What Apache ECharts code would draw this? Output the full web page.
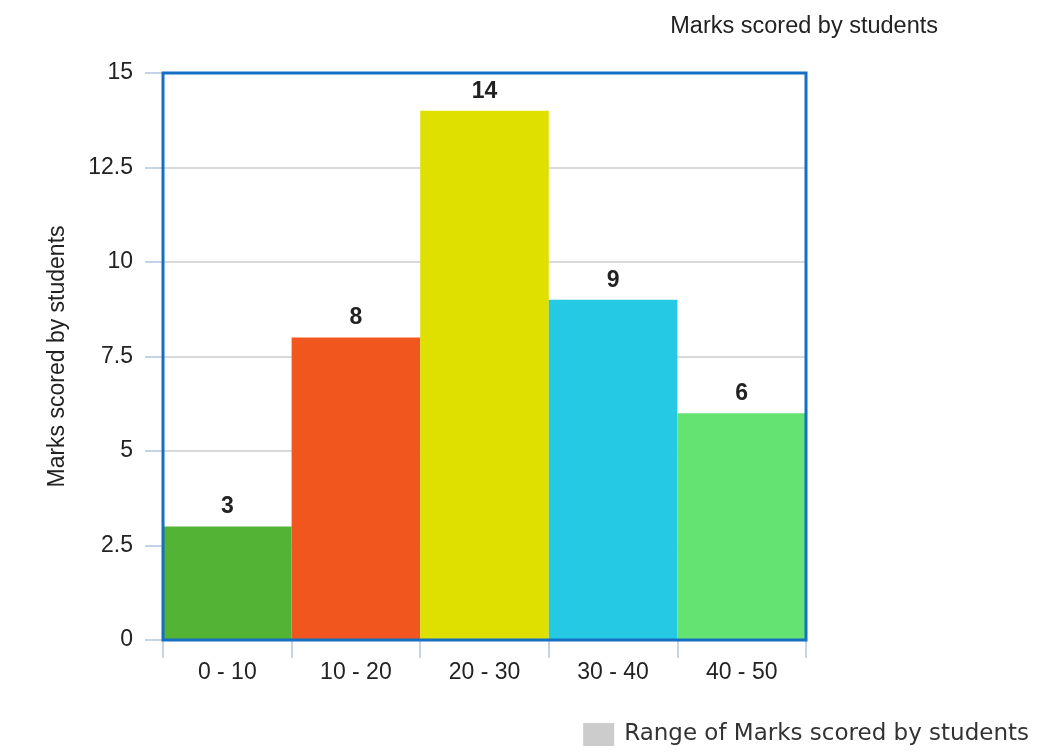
<!DOCTYPE html>
<html><head><meta charset="utf-8">
<script src="https://cdn.jsdelivr.net/npm/echarts@6/dist/echarts.min.js"></script>
<style>html,body{margin:0;padding:0;background:#fff}#c{width:1050px;height:754px}</style>
</head><body><div id="c"></div>
<script>
const categories = ['0 - 10', '10 - 20', '20 - 30', '30 - 40', '40 - 50'];
const values = [3, 8, 14, 9, 6];
const barColors = ['#52b334', '#f0561d', '#dfe000', '#26c9e3', '#64e372'];
const seriesName = 'Range of Marks scored by students';
const titleText = 'Marks scored by students';
const yAxisName = 'Marks scored by students';

const chart = echarts.init(document.getElementById('c'));
chart.setOption({
  animation: false,
  title: {
    text: titleText, right: 107, top: 10,
    textStyle: {fontFamily: 'Liberation Sans, Arial', fontSize: 23.5, fontWeight: 'normal', color: '#222'}
  },
  legend: {
    data: [seriesName], right: 16, bottom: 3, itemWidth: 31, itemHeight: 23, itemGap: 10, icon: 'rect',
    textStyle: {fontFamily: 'DejaVu Sans', fontSize: 23, color: '#333', padding: [0, 0, 0, 5]}
  },
  grid: {left: 163, top: 73, right: 244, bottom: 114, show: true, z: 3, borderColor: '#1570c4', borderWidth: 3, backgroundColor: 'transparent'},
  xAxis: {
    type: 'category', data: categories,
    axisLine: {show: false},
    axisTick: {show: true, length: 18, lineStyle: {color: '#c5d3e6', width: 2}},
    axisLabel: {fontFamily: 'Liberation Sans, Arial', fontSize: 23, color: '#222', margin: 21}
  },
  yAxis: {
    type: 'value', min: 0, max: 15, interval: 2.5,
    name: yAxisName, nameLocation: 'middle', nameGap: 94,
    nameTextStyle: {fontFamily: 'Liberation Sans, Arial', fontSize: 23, color: '#222'},
    axisLine: {show: false},
    axisTick: {show: true, length: 18, lineStyle: {color: '#c5d3e6', width: 2}},
    axisLabel: {fontFamily: 'Liberation Sans, Arial', fontSize: 23, color: '#222', margin: 30},
    splitLine: {lineStyle: {color: '#cccccc', width: 1.5}}
  },
  series: [{
    name: seriesName, type: 'bar', barCategoryGap: 0,
    itemStyle: {color: '#cccccc'},
    data: values.map((v, i) => ({value: v, itemStyle: {color: barColors[i]}})),
    label: {show: true, position: 'top', distance: 8, fontFamily: 'Liberation Sans, Arial', fontSize: 23, fontWeight: 'bold', color: '#222'}
  }]
});
</script></body></html>
